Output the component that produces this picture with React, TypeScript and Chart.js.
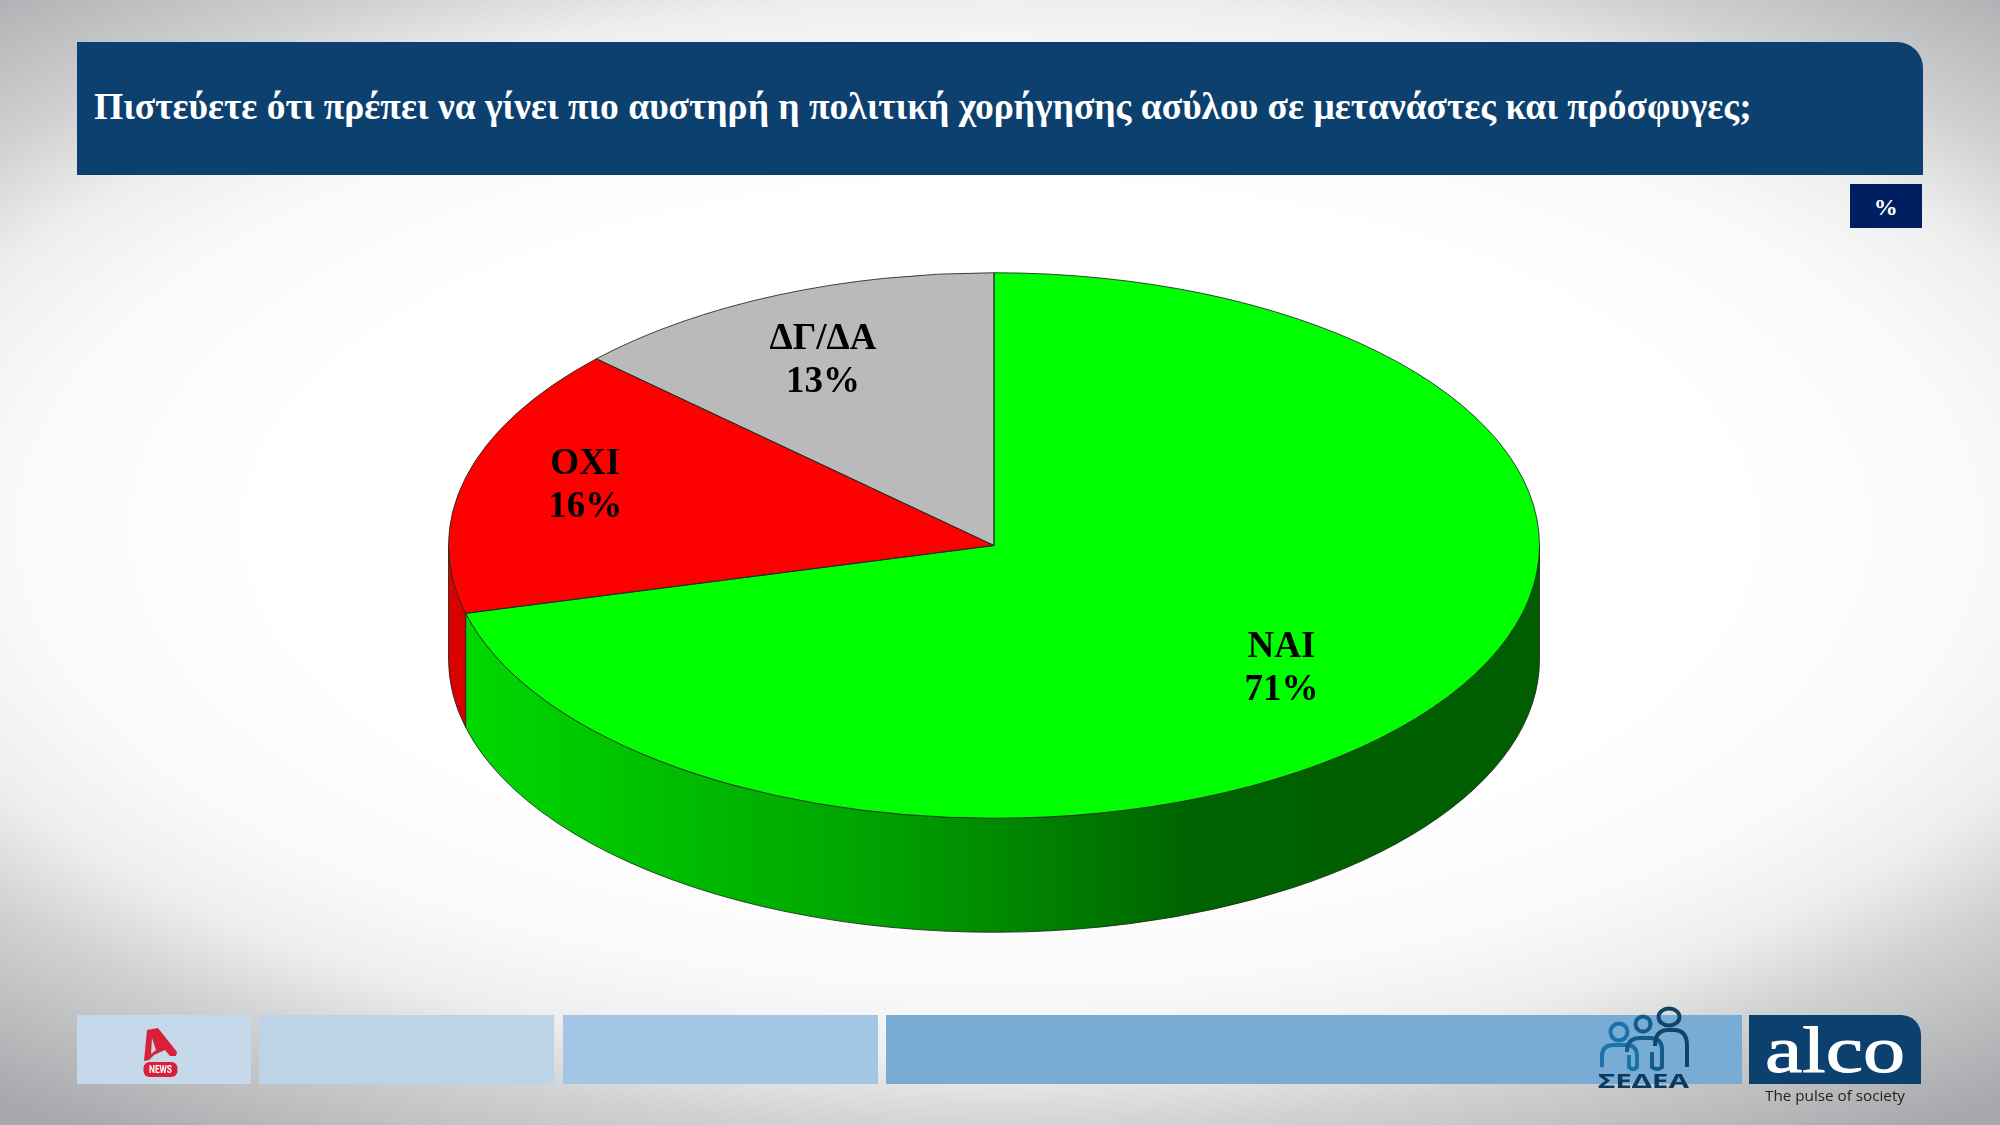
import React, { useEffect, useRef } from "react";
import { Chart, registerables } from "chart.js";

Chart.register(...registerables);

const TITLE = "Πιστεύετε ότι πρέπει να γίνει πιο αυστηρή η πολιτική χορήγησης ασύλου σε μετανάστες και πρόσφυγες;";
const categories = ["ΝΑΙ", "ΟΧΙ", "ΔΓ/ΔΑ"];
const shares = [71, 16, 13];
const topColors = ["#00ff00", "#ff0000", "#bababa"];
const wallColors = [
  [[0, "#00d800"], [0.37, "#00a400"], [0.68, "#006200"], [1, "#005e00"]],
  [[0, "#d80000"], [1, "#d80000"]],
  [[0, "#8c8c8c"], [1, "#8c8c8c"]],
];
// polar nudges of each label inside its slice (fraction of radius, degrees)
const labelRadial = [0.692, 0.782, 0.75];
const labelTurn = [2.6, 2.2, -1.3];

const SQUASH = 0.5;
const DEPTH = 114;
const OUTLINE = "rgba(30,40,30,0.85)";
const FONT = 'bold 37px "Liberation Serif"';
const LINE = 43;

const pie3d = {
  id: "pie3d",
  beforeDatasetsDraw(chart: any) {
    const ctx = chart.ctx;
    const arcs = chart.getDatasetMeta(0).data;
    arcs.forEach((el: any, i: number) => {
      const a0 = Math.max(el.startAngle, 0);
      const a1 = Math.min(el.endAngle, Math.PI);
      if (a0 >= a1) return;
      const r = el.outerRadius;
      const g = ctx.createLinearGradient(el.x + r * Math.cos(a1), 0, el.x + r * Math.cos(a0), 0);
      wallColors[i].forEach(([s, c]: any) => g.addColorStop(s, c));
      ctx.save();
      ctx.beginPath();
      ctx.ellipse(el.x, el.y, r, r * SQUASH, 0, a0, a1);
      ctx.ellipse(el.x, el.y + DEPTH, r, r * SQUASH, 0, a1, a0, true);
      ctx.closePath();
      ctx.fillStyle = g;
      ctx.fill();
      ctx.lineWidth = 1;
      ctx.strokeStyle = OUTLINE;
      ctx.stroke();
      ctx.restore();
    });
  },
  beforeDatasetDraw(chart: any) {
    const ctx = chart.ctx;
    const el = chart.getDatasetMeta(0).data[0];
    ctx.save();
    ctx.translate(el.x, el.y);
    ctx.scale(1, SQUASH);
    ctx.translate(-el.x, -el.y);
  },
  afterDatasetDraw(chart: any) {
    chart.ctx.restore();
  },
  afterDatasetsDraw(chart: any) {
    const ctx = chart.ctx;
    const arcs = chart.getDatasetMeta(0).data;
    arcs.forEach((el: any) => {
      const r = el.outerRadius;
      ctx.save();
      ctx.beginPath();
      ctx.moveTo(el.x, el.y);
      ctx.ellipse(el.x, el.y, r, r * SQUASH, 0, el.startAngle, el.endAngle);
      ctx.closePath();
      ctx.lineWidth = 1;
      ctx.strokeStyle = OUTLINE;
      ctx.stroke();
      ctx.restore();
    });
    ctx.save();
    ctx.font = FONT;
    ctx.fillStyle = "#000";
    ctx.textAlign = "center";
    ctx.textBaseline = "alphabetic";
    arcs.forEach((el: any, i: number) => {
      const mid = (el.startAngle + el.endAngle) / 2 + (labelTurn[i] * Math.PI) / 180;
      const rr = el.outerRadius * labelRadial[i];
      const x = el.x + rr * Math.cos(mid);
      const y = el.y + rr * SQUASH * Math.sin(mid);
      ctx.fillText(categories[i], x, y - 10.5);
      ctx.fillText(`${shares[i]}%`, x, y - 10.5 + LINE);
    });
    ctx.restore();
  },
};

const box = (left: number, top: number, width: number, height: number, background: string, extra: any = {}) => (
  <div style={{ position: "absolute", left, top, width, height, background, ...extra }} />
);

export default function App() {
  const ref = useRef<HTMLCanvasElement>(null);
  useEffect(() => {
    const chart = new Chart(ref.current as HTMLCanvasElement, {
      type: "pie",
      data: {
        labels: categories,
        datasets: [{ data: shares, backgroundColor: topColors, borderWidth: 0, radius: 545.5 } as any],
      },
      options: {
        animation: false,
        responsive: false,
        layout: { padding: { right: 12, bottom: 34 } },
        plugins: { legend: { display: false }, tooltip: { enabled: false }, title: { display: false } },
      },
      plugins: [pie3d],
    } as any);
    return () => chart.destroy();
  }, []);

  return (
    <div
      style={{
        position: "absolute",
        left: 0,
        top: 0,
        width: 2000,
        height: 1125,
        overflow: "hidden",
        background:
          "radial-gradient(ellipse 1500px 700px at 50% 47%, #ffffff 0%, #ffffff 48%, #f9f9f9 66%, #eeeeee 76%, #d0d1d2 86%, #a8a9ac 105%)",
      }}
    >
      {box(76.5, 42, 1846.5, 133, "#0c406e", { borderTopRightRadius: 26 })}
      <div
        style={{
          position: "absolute",
          left: 94,
          top: 85,
          whiteSpace: "nowrap",
          color: "#fff",
          font: 'bold 37.5px/44px "Liberation Serif"',
        }}
      >
        {TITLE}
      </div>
      <div
        style={{
          position: "absolute",
          left: 1850,
          top: 184,
          width: 71.5,
          height: 44,
          background: "#001f60",
          color: "#fff",
          textAlign: "center",
          font: 'bold 24px/47px "Liberation Serif"',
        }}
      >
        %
      </div>
      <canvas ref={ref} width={2000} height={1125} style={{ position: "absolute", left: 0, top: 0 }} />

      {box(76.5, 1015, 174.5, 69, "#c5d9ea")}
      {box(259, 1015, 295, 69, "#bdd3e8")}
      {box(562.5, 1015, 315.5, 69, "#a2c6e4")}
      {box(886, 1015, 855.5, 69, "#79acd5")}
      {box(1749, 1015, 171.7, 69, "#0c406e", { borderTopRightRadius: 20 })}

      <svg width={2000} height={1125} style={{ position: "absolute", left: 0, top: 0 }}>
        <path d="M147 1030 L158 1028 L177 1052 L176 1056 L170 1056 L165 1050 L154 1055 L149 1060 L144 1061 Z" fill="#d9203a" />
        <path d="M152 1038 L156 1050 L151 1054 Z" fill="#c5d9ea" />
        <rect x={143.5} y={1062} width={34} height={15} rx={6} fill="#d9203a" />
        <text x={160.5} y={1073} textAnchor="middle" fill="#fff" fontFamily="Roboto" fontWeight={700} fontSize={10} textLength={23} lengthAdjust="spacingAndGlyphs">
          NEWS
        </text>

        <g fill="none" strokeWidth={4}>
          <circle cx={1619} cy={1032} r={8.5} stroke="#1b72ab" />
          <circle cx={1643} cy={1024} r={7.5} stroke="#125c8c" />
          <ellipse cx={1669} cy={1017} rx={10.5} ry={8.5} stroke="#0e4468" />
          <path d="M1602 1067 V1056 Q1602 1045 1614 1045 H1626 Q1637 1045 1637 1056 V1067 Q1633 1071 1629 1067 V1055" stroke="#1b72ab" />
          <path d="M1627 1052 Q1627 1038 1640 1038 H1650 Q1662 1038 1662 1050 V1067 Q1657 1071 1652 1067 V1052" stroke="#125c8c" />
          <path d="M1655 1046 Q1655 1030 1668 1030 H1674 Q1687 1030 1687 1046 V1067" stroke="#0e4468" />
        </g>
        <text x={1598} y={1088} fill="#0c3a5e" fontFamily="Noto Sans" fontWeight={700} fontSize={20} textLength={91} lengthAdjust="spacingAndGlyphs">
          ΣΕΔΕΑ
        </text>
        <text x={1765} y={1072} fill="#fff" fontFamily="Liberation Serif" fontWeight={400} stroke="#fff" strokeWidth={1} fontSize={66} textLength={140} lengthAdjust="spacingAndGlyphs">
          alco
        </text>
        <text x={1765} y={1101} fill="#222" fontFamily="Open Sans" fontSize={14} textLength={140} lengthAdjust="spacingAndGlyphs">
          The pulse of society
        </text>
      </svg>
    </div>
  );
}
